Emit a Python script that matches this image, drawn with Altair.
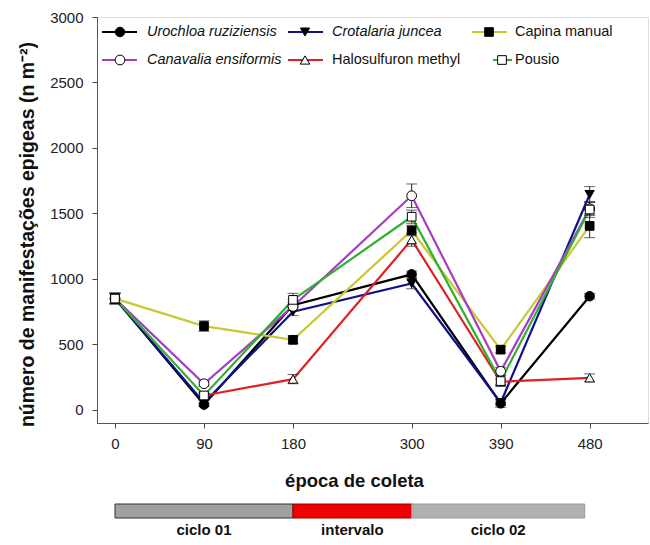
import altair as alt
import pandas as pd

# Sampling dates (days after start)
days = [0, 90, 180, 300, 390, 480]

# Mean number of epigeic manifestations (n m-2) per treatment
urochloa = [850, 40, 800, 1035, 50, 868]
crotalaria = [850, 55, 750, 965, 55, 1645]
capina = [850, 640, 535, 1370, 460, 1405]
canavalia = [850, 200, 790, 1635, 295, 1535]
halosulfuron = [None, 110, 235, 1300, 215, 245]
pousio = [850, 110, 840, 1475, 220, 1530]

# Standard errors
urochloa_se = [40, 15, 40, 25, 30, 20]
crotalaria_se = [40, 15, 30, 40, 20, 60]
capina_se = [40, 40, 30, 40, 25, 90]
canavalia_se = [40, 20, 30, 90, 30, 50]
halosulfuron_se = [0, 15, 35, 50, 20, 30]
pousio_se = [40, 20, 50, 50, 40, 60]

names = ["Urochloa ruziziensis", "Crotalaria juncea", "Capina manual",
         "Canavalia ensiformis", "Halosulfuron methyl", "Pousio"]
values = [urochloa, crotalaria, capina, canavalia, halosulfuron, pousio]
errors = [urochloa_se, crotalaria_se, capina_se, canavalia_se, halosulfuron_se, pousio_se]

# Periods shown under the axis
period_labels = ["ciclo 01", "intervalo", "ciclo 02"]
period_start = [0, 180, 300]
period_end = [180, 300, 475]

# Styling per treatment
line_colors = ["#000000", "#10108c", "#c8c832", "#a83cc8", "#e02020", "#30b030"]
shapes = ["circle", "triangle-down", "square", "circle", "triangle-up", "square"]
fills = ["black", "black", "black", "white", "white", "white"]
sizes = [90, 85, 75, 95, 90, 75]
italic = [True, True, False, True, False, False]

# Legend layout (pixels inside the plot area)
leg_x1 = [5, 191, 375, 5, 191, 396]
leg_x2 = [40, 226, 410, 40, 226, 415]
leg_mx = [23, 208, 392, 23, 208, 405]
leg_tx = [50, 235, 418, 50, 235, 418]
leg_y = [15, 15, 15, 43, 43, 43]

FONT = "Liberation Sans"
xscale = alt.Scale(domain=[-18.2, 539], nice=False, zero=False)
yscale = alt.Scale(domain=[-100, 3000], nice=False, zero=False)

rows = []
for name, vals, errs in zip(names, values, errors):
    for d, v, e in zip(days, vals, errs):
        if v is None:
            continue
        rows.append({"series": name, "day": d, "value": v, "lo": v - e, "hi": v + e})
df = pd.DataFrame(rows)

line_layers, err_layers, pt_layers, leg_layers = [], [], [], []
for i, name in enumerate(names):
    sub = df[df.series == name]
    base = alt.Chart(sub)
    line_layers.append(
        base.mark_line(color=line_colors[i], strokeWidth=2.2).encode(
            x=alt.X("day:Q", scale=xscale, axis=None),
            y=alt.Y("value:Q", scale=yscale, axis=None),
        )
    )
    err_layers.append(
        base.mark_rule(color="#222222", strokeWidth=1).encode(
            x=alt.X("day:Q", scale=xscale, axis=None),
            y=alt.Y("lo:Q", scale=yscale, axis=None),
            y2="hi:Q",
        )
    )
    for fld in ["lo", "hi"]:
        err_layers.append(
            base.mark_tick(color="#222222", thickness=1, size=11, orient="horizontal").encode(
                x=alt.X("day:Q", scale=xscale, axis=None),
                y=alt.Y(f"{fld}:Q", scale=yscale, axis=None),
            )
        )
    pt_layers.append(
        base.mark_point(shape=shapes[i], filled=True, fill=fills[i], stroke="black",
                        strokeWidth=1, size=sizes[i], opacity=1).encode(
            x=alt.X("day:Q", scale=xscale, axis=None),
            y=alt.Y("value:Q", scale=yscale, axis=None),
        )
    )
    leg = alt.Chart(pd.DataFrame({
        "x1": [leg_x1[i]], "x2": [leg_x2[i]], "mx": [leg_mx[i]],
        "tx": [leg_tx[i]], "y": [leg_y[i]], "label": [name]}))
    leg_layers.append(
        leg.mark_rule(color=line_colors[i], strokeWidth=2.2).encode(
            x=alt.X("x1:Q", scale=None, axis=None), x2="x2:Q",
            y=alt.Y("y:Q", scale=None, axis=None))
    )
    leg_layers.append(
        leg.mark_point(shape=shapes[i], filled=True, fill=fills[i], stroke="black",
                       strokeWidth=1, size=sizes[i], opacity=1).encode(
            x=alt.X("mx:Q", scale=None, axis=None),
            y=alt.Y("y:Q", scale=None, axis=None))
    )
    leg_layers.append(
        leg.mark_text(align="left", baseline="middle", font=FONT, fontSize=14.5,
                      fontStyle="italic" if italic[i] else "normal", color="#111111").encode(
            x=alt.X("tx:Q", scale=None, axis=None),
            y=alt.Y("y:Q", scale=None, axis=None),
            text="label:N")
    )

# Axes layer (invisible points carrying the axes)
axes = alt.Chart(df).mark_point(opacity=0).encode(
    x=alt.X("day:Q", scale=xscale,
            axis=alt.Axis(values=days, title="época de coleta", grid=False, format="d",
                          labelFont=FONT, labelFontSize=15, labelColor="#222222",
                          labelPadding=8, tickSize=5, tickColor="#444444",
                          domainColor="#555555", titleFont=FONT, titleFontSize=18.5,
                          titleFontWeight="bold", titleColor="#111111",
                          titleX=257, titleY=57, titleBaseline="middle")),
    y=alt.Y("value:Q", scale=yscale,
            axis=alt.Axis(values=[0, 500, 1000, 1500, 2000, 2500, 3000], format="d",
                          title="número de manifestações epigeas (n m⁻²)", grid=False,
                          labelFont=FONT, labelFontSize=15, labelColor="#222222",
                          labelPadding=9, tickSize=5, tickColor="#444444",
                          domainColor="#555555", titleFont=FONT, titleFontSize=19.5,
                          titleFontWeight="bold", titleColor="#111111",
                          titleX=-70, titleY=217, titleBaseline="middle")),
)

# Period bars below the axis
periods = pd.DataFrame({"label": period_labels, "start": period_start, "end": period_end,
                        "mid": [(a + b) / 2 for a, b in zip(period_start, period_end)]})
bars = alt.Chart(periods).mark_bar(strokeWidth=1).encode(
    x=alt.X("start:Q", scale=xscale, axis=None), x2="end:Q",
    y=alt.value(487), y2=alt.value(501),
    fill=alt.Fill("label:N", scale=alt.Scale(domain=period_labels,
                                            range=["#a0a0a0", "#f00000", "#b0b0b0"]),
                  legend=None),
    stroke=alt.Stroke("label:N", scale=alt.Scale(domain=period_labels,
                                                range=["#333333", "#8a0000", "#999999"]),
                      legend=None),
)
bar_text = alt.Chart(periods).mark_text(font=FONT, fontSize=15, fontWeight="bold",
                                        baseline="middle", color="#111111").encode(
    x=alt.X("mid:Q", scale=xscale, axis=None),
    y=alt.value(513),
    text="label:N",
)

chart = alt.layer(
    axes, *line_layers, *err_layers, *pt_layers, *leg_layers, bars, bar_text
).resolve_scale(
    x="independent", y="independent", fill="independent", stroke="independent"
).properties(
    width=551, height=406,
    autosize=alt.AutoSizeParams(type="none"),
    padding={"left": 97, "top": 17, "right": 2, "bottom": 122},
).configure_view(stroke=None).configure(background="white")

chart.save("out.html", embed_options={"renderer": "svg", "actions": False})
